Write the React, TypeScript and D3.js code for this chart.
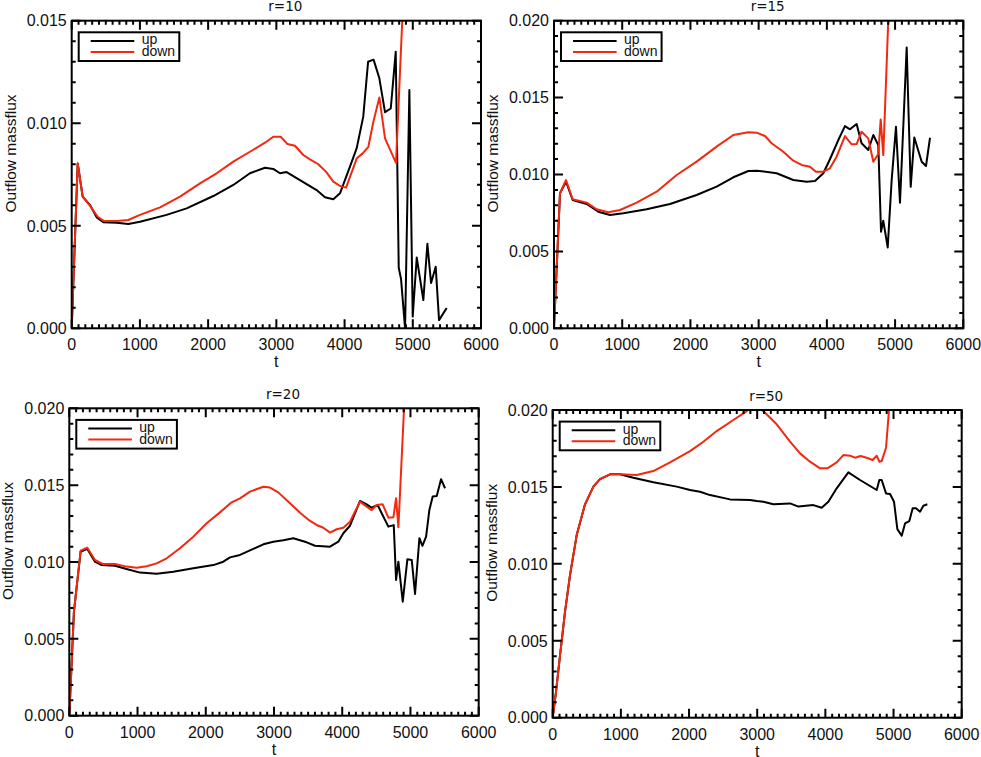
import React from 'react';
import * as d3 from 'd3';

// r=10
const r10UpT = [0, 88, 161, 269, 366, 464, 660, 830, 1001, 1392, 1685, 2076, 2369, 2613, 2833, 2955, 3053, 3150, 3346, 3590, 3713, 3835, 3933, 4079, 4177, 4274, 4345, 4425, 4510, 4593, 4677, 4750, 4794, 4828, 4887, 4950, 4999, 5058, 5155, 5214, 5268, 5336, 5385, 5497];
const r10Up = [0, 0.00804, 0.00642, 0.00601, 0.00541, 0.00517, 0.00515, 0.00509, 0.0052, 0.00553, 0.00585, 0.00645, 0.00699, 0.00756, 0.00783, 0.00777, 0.00756, 0.00762, 0.00723, 0.00674, 0.00639, 0.00629, 0.00658, 0.00788, 0.00877, 0.01032, 0.0130, 0.01310, 0.01219, 0.01054, 0.01072, 0.01348, 0.00295, 0.00240, 0, 0.01162, 0.00057, 0.00345, 0.00138, 0.00412, 0.00221, 0.003, 0.0004, 0.00099];
const r10DownT = [0, 88, 161, 269, 381, 474, 660, 830, 1001, 1295, 1588, 1881, 2125, 2369, 2613, 2833, 2955, 3063, 3160, 3273, 3395, 3493, 3615, 3727, 3835, 3934, 4022, 4179, 4266, 4349, 4422, 4510, 4593, 4754, 4900];
const r10Down = [0, 0.00804, 0.00642, 0.00597, 0.00544, 0.00523, 0.00523, 0.00528, 0.00553, 0.0059, 0.00642, 0.00707, 0.00756, 0.00813, 0.00861, 0.00905, 0.00934, 0.00934, 0.00899, 0.0089, 0.00845, 0.00824, 0.008, 0.00764, 0.00715, 0.00694, 0.00686, 0.00829, 0.00853, 0.00885, 0.01007, 0.01126, 0.00926, 0.00807, 0.0191];

// r=15
const r15UpT = [0, 88, 176, 274, 479, 650, 821, 1016, 1358, 1700, 2091, 2384, 2629, 2849, 2971, 3264, 3508, 3704, 3826, 3948, 4045, 4168, 4265, 4339, 4436, 4509, 4607, 4681, 4754, 4794, 4827, 4892, 4950, 5013, 5072, 5170, 5229, 5282, 5390, 5453, 5512];
const r15Up = [0, 0.00878, 0.00953, 0.00834, 0.00808, 0.00758, 0.00737, 0.00748, 0.00774, 0.00808, 0.00867, 0.00921, 0.00982, 0.01023, 0.01025, 0.01008, 0.00964, 0.00953, 0.00958, 0.01008, 0.01099, 0.01224, 0.01315, 0.01294, 0.01328, 0.01203, 0.01159, 0.01257, 0.01191, 0.00628, 0.00699, 0.00526, 0.00964, 0.0131, 0.00816, 0.01826, 0.0092, 0.01241, 0.01083, 0.01055, 0.01239];
const r15DownT = [0, 88, 176, 274, 479, 625, 796, 967, 1212, 1505, 1798, 2091, 2384, 2629, 2849, 2971, 3093, 3190, 3361, 3508, 3630, 3752, 3840, 3948, 4045, 4143, 4265, 4363, 4436, 4509, 4607, 4681, 4754, 4789, 4827, 4950];
const r15Down = [0, 0.00878, 0.00964, 0.00839, 0.00817, 0.00774, 0.00754, 0.00769, 0.00817, 0.00888, 0.00997, 0.01084, 0.01181, 0.01257, 0.01274, 0.01272, 0.0125, 0.01203, 0.01148, 0.0109, 0.01062, 0.01051, 0.01018, 0.01018, 0.0104, 0.01116, 0.0125, 0.01196, 0.01198, 0.01278, 0.01235, 0.01083, 0.01133, 0.01358, 0.01126, 0.0260];

// r=20
const r20UpT = [0, 68, 166, 264, 376, 474, 669, 840, 1036, 1280, 1524, 1818, 2111, 2257, 2355, 2502, 2697, 2844, 2990, 3137, 3283, 3479, 3601, 3821, 3943, 4016, 4114, 4260, 4358, 4431, 4519, 4578, 4676, 4755, 4789, 4823, 4887, 4955, 5019, 5067, 5131, 5175, 5229, 5277, 5326, 5385, 5448, 5507];
const r20Up = [0, 0.00677, 0.01067, 0.01085, 0.01002, 0.0098, 0.00976, 0.00954, 0.00931, 0.00924, 0.00937, 0.00959, 0.0098, 0.01002, 0.0103, 0.01046, 0.01085, 0.01115, 0.01132, 0.01141, 0.01154, 0.01128, 0.01106, 0.011, 0.01132, 0.01187, 0.01236, 0.01397, 0.01375, 0.01353, 0.01371, 0.01317, 0.0123, 0.0124, 0.00883, 0.01002, 0.00742, 0.01018, 0.01013, 0.00792, 0.01155, 0.01105, 0.01165, 0.01339, 0.01426, 0.0143, 0.01539, 0.0148];
const r20DownT = [0, 68, 166, 264, 376, 489, 669, 840, 987, 1134, 1280, 1427, 1622, 1818, 2013, 2208, 2379, 2502, 2648, 2844, 2941, 3063, 3234, 3381, 3528, 3625, 3723, 3821, 3918, 4016, 4114, 4260, 4358, 4431, 4505, 4593, 4676, 4750, 4789, 4823, 4950];
const r20Down = [0, 0.00677, 0.01074, 0.01093, 0.01013, 0.00987, 0.00987, 0.0097, 0.00963, 0.00972, 0.00991, 0.01024, 0.01089, 0.01165, 0.01252, 0.01323, 0.01388, 0.01414, 0.01458, 0.0149, 0.01484, 0.01453, 0.01382, 0.01321, 0.01267, 0.01241, 0.01223, 0.01191, 0.01213, 0.01223, 0.01262, 0.01393, 0.0136, 0.01338, 0.01371, 0.01375, 0.01288, 0.01291, 0.01415, 0.01226, 0.0241];

// r=50
const r50UpT = [0, 49, 108, 181, 254, 352, 474, 597, 694, 841, 988, 1183, 1477, 1819, 2015, 2161, 2308, 2601, 2895, 2993, 3091, 3237, 3482, 3604, 3824, 3946, 4044, 4166, 4337, 4509, 4753, 4792, 4826, 4890, 4949, 5007, 5056, 5120, 5169, 5232, 5281, 5330, 5389, 5438, 5496];
const r50Up = [0, 0.00169, 0.00407, 0.00689, 0.00927, 0.01187, 0.01387, 0.01502, 0.01551, 0.01582, 0.01582, 0.0156, 0.0153, 0.01502, 0.0148, 0.01469, 0.01447, 0.01419, 0.01415, 0.01408, 0.01404, 0.01387, 0.01393, 0.01372, 0.01382, 0.01365, 0.01404, 0.01491, 0.01595, 0.01545, 0.0148, 0.01545, 0.01545, 0.01458, 0.01454, 0.01404, 0.01226, 0.01183, 0.01263, 0.01278, 0.01361, 0.01361, 0.01339, 0.01378, 0.01387];
const r50DownT = [0, 49, 108, 181, 254, 352, 474, 597, 694, 841, 988, 1232, 1477, 1721, 2015, 2210, 2406, 2650, 2846, 2950, 3090, 3286, 3482, 3628, 3775, 3922, 4029, 4166, 4264, 4362, 4435, 4518, 4606, 4694, 4753, 4792, 4826, 4890, 4960];
const r50Down = [0, 0.00169, 0.00407, 0.00689, 0.00927, 0.01187, 0.01387, 0.01502, 0.01551, 0.01582, 0.01582, 0.01577, 0.01603, 0.0166, 0.01733, 0.01794, 0.01863, 0.01935, 0.01993, 0.0203, 0.01993, 0.01907, 0.01794, 0.01718, 0.01664, 0.01621, 0.01621, 0.0166, 0.01707, 0.01703, 0.0169, 0.01701, 0.0169, 0.01675, 0.01703, 0.01664, 0.01668, 0.01755, 0.0215];

const xTickLabels = ['0', '1000', '2000', '3000', '4000', '5000', '6000'];
const seriesNames = ['up', 'down'];

const RED = '#f2280f';
const FONT = '"Liberation Sans", Arial, Helvetica, sans-serif';

const panels = [
  { id: 'p1', title: 'r=10', ymax: 0.015, box: [71.7, 20.7, 481, 328.3], upT: r10UpT, up: r10Up, downT: r10DownT, down: r10Down },
  { id: 'p2', title: 'r=15', ymax: 0.02, box: [554, 20.7, 963.3, 328.3], upT: r15UpT, up: r15Up, downT: r15DownT, down: r15Down },
  { id: 'p3', title: 'r=20', ymax: 0.02, box: [69.3, 408.3, 478.7, 715.7], upT: r20UpT, up: r20Up, downT: r20DownT, down: r20Down },
  { id: 'p4', title: 'r=50', ymax: 0.02, box: [552.7, 410, 961.7, 717.7], upT: r50UpT, up: r50Up, downT: r50DownT, down: r50Down },
];

function Panel({ p }) {
  const [x0, y0, x1, y1] = p.box;
  const x = d3.scaleLinear().domain([0, 6000]).range([x0, x1]);
  const y = d3.scaleLinear().domain([0, p.ymax]).range([y1, y0]);

  const line = d3.line<[number, number]>().x(d => x(d[0])).y(d => y(d[1]));
  const upPts = p.upT.map((t, i) => [t, p.up[i]] as [number, number]);
  const downPts = p.downT.map((t, i) => [t, p.down[i]] as [number, number]);

  const xMinor = d3.range(0, 6001, 100);
  const yMinor = d3.range(0, Math.round(p.ymax * 1000) + 1).map(k => k / 1000);
  const yMajor = d3.range(0, Math.round(p.ymax * 200) + 1).map(k => k / 200);
  const fmt = d3.format('.3f');

  // IDL-style box ticks on all four sides
  let tickPath = '';
  xMinor.forEach(t => {
    const len = t % 1000 === 0 ? 9 : 4;
    const px = x(t);
    tickPath += `M${px},${y1}V${y1 - len}M${px},${y0}V${y0 + len}`;
  });
  yMinor.forEach((v, i) => {
    const len = i % 5 === 0 ? 9 : 4;
    const py = y(v);
    tickPath += `M${x0},${py}H${x0 + len}M${x1},${py}H${x1 - len}`;
  });

  const cx = (x0 + x1) / 2;
  const cy = (y0 + y1) / 2;

  return (
    <g>
      <defs>
        <clipPath id={`clip-${p.id}`}>
          <rect x={x0} y={y0} width={x1 - x0} height={y1 - y0} />
        </clipPath>
      </defs>

      {/* data */}
      <g clipPath={`url(#clip-${p.id})`} fill="none" strokeWidth={2} strokeLinejoin="round">
        <path d={line(upPts) || ''} stroke="#000" />
        <path d={line(downPts) || ''} stroke={RED} />
      </g>

      <rect x={x0} y={y0} width={x1 - x0} height={y1 - y0} fill="none" stroke="#000" strokeWidth={2} />
      <path d={tickPath} fill="none" stroke="#000" strokeWidth={2} />

      {/* tick labels */}
      <g fontFamily={FONT} fontSize={16} fill="#111">
        {xTickLabels.map((lab, i) => (
          <text key={'xl' + i} x={x(i * 1000)} y={y1 + 22} textAnchor="middle">{lab}</text>
        ))}
        {yMajor.map((v, i) => (
          <text key={'yl' + i} x={x0 - 5} y={y(v)} dy="0.36em" textAnchor="end">{fmt(v)}</text>
        ))}
      </g>

      <text x={cx} y={y1 + 39} textAnchor="middle" fontFamily={FONT} fontSize={16} fill="#111">t</text>
      <text transform={`translate(${x0 - 56},${cy - 21}) rotate(-90)`} textAnchor="middle" fontFamily={FONT} fontSize={15.5} fill="#111">Outflow massflux</text>
      <text x={cx + 9} y={y0 - 9.5} textAnchor="middle" fontFamily='"DejaVu Sans", sans-serif' fontSize={13.5} fill="#111">{p.title}</text>

      {/* legend */}
      <g>
        <rect x={x0 + 7} y={y0 + 11.6} width={100.6} height={28.7} fill="#fff" stroke="#000" strokeWidth={2} />
        {seriesNames.map((name, i) => (
          <g key={name}>
            <line x1={x0 + 19} x2={x0 + 62.6} y1={y0 + 20.3 + i * 11} y2={y0 + 20.3 + i * 11} stroke={i === 0 ? '#000' : RED} strokeWidth={2} />
            <text x={x0 + 70} y={y0 + 23.5 + i * 11.8} fontFamily={FONT} fontSize={14} fill="#111">{name}</text>
          </g>
        ))}
      </g>
    </g>
  );
}

export default function App() {
  return (
    <svg width={981} height={757} style={{ position: 'absolute', left: 0, top: 0, background: '#fff' }}>
      <rect width={981} height={757} fill="#fff" />
      {panels.map(p => <Panel key={p.id} p={p} />)}
    </svg>
  );
}
